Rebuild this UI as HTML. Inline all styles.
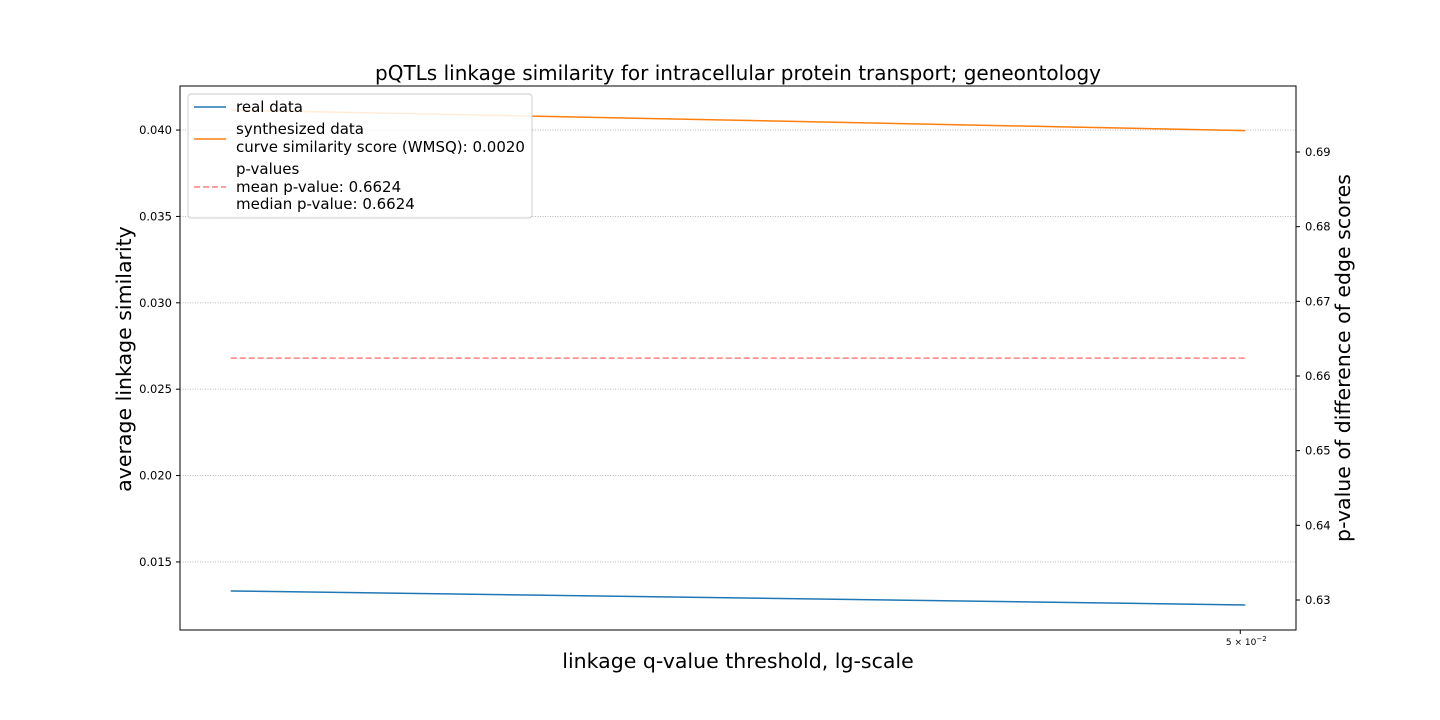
<!DOCTYPE html>
<html><head><meta charset="utf-8"><style>
body{margin:0;background:#fff;}
svg{display:block;font-family:"DejaVu Sans","Liberation Sans",sans-serif;}
</style></head><body>
<svg id="chart" width="1440" height="720"></svg>
<script>
const thresholds = [0.0223, 0.0502];
const realData = [0.01332, 0.01251];
const synthData = [0.04116, 0.03997];
const pValues = [0.6624, 0.6624];
const leftTicks = [0.015, 0.020, 0.025, 0.030, 0.035, 0.040];
const leftTickLabels = ["0.015","0.020","0.025","0.030","0.035","0.040"];
const rightTicks = [0.63, 0.64, 0.65, 0.66, 0.67, 0.68, 0.69];
const rightTickLabels = ["0.63","0.64","0.65","0.66","0.67","0.68","0.69"];

const L=180,R=1296,T=86,B=630;
const ns="http://www.w3.org/2000/svg";
const svg=document.getElementById('chart');
function el(tag,attrs,parent){const e=document.createElementNS(ns,tag);for(const k in attrs)e.setAttribute(k,attrs[k]);(parent||svg).appendChild(e);return e;}
const lx0=Math.log(thresholds[0]),lx1=Math.log(thresholds[thresholds.length-1]);
const pad=(lx1-lx0)*0.05;
const xs=v=>L+(Math.log(v)-(lx0-pad))/((lx1+pad)-(lx0-pad))*(R-L);
const yl=v=>B-(v-0.01106)/(0.04255-0.01106)*(B-T);
const yr=v=>B-(v-0.62598)/(0.69884-0.62598)*(B-T);

leftTicks.forEach((t,i)=>{
  const y=yl(t);
  const g=el('line',{x1:L,x2:R,y1:y,y2:y,stroke:'#b0b0b0','stroke-width':0.8,'stroke-dasharray':'1,1.5'});
  
  
  el('line',{x1:L-4,x2:L,y1:y,y2:y,stroke:'#000'});
  const tx=el('text',{x:L-8,y:y+4,'text-anchor':'end','font-size':11.5});
  tx.textContent=leftTickLabels[i];
  
  
});
rightTicks.forEach((t,i)=>{
  const y=yr(t);
  el('line',{x1:R,x2:R+4,y1:y,y2:y,stroke:'#000'});
  const tx=el('text',{x:R+9,y:y+4,'font-size':11.5});
  tx.textContent=rightTickLabels[i];
  
  
});
{const x=xs(0.05);el('line',{x1:x,x2:x,y1:B,y2:B+4,stroke:'#000'});
const t=el('text',{x:x+6,y:B+15,'text-anchor':'middle','font-size':9});
t.innerHTML='5 × 10<tspan dy="-4" font-size="7">−2</tspan>';

}

function line(data,sc,color,name,dash){
  const pts=data.map((v,i)=>xs(thresholds[i])+','+sc(v)).join(' ');
  const p=el('polyline',{points:pts,fill:'none',stroke:color,'stroke-width':1.5});
  if(dash)p.setAttribute('stroke-dasharray',dash);
  
  
}
line(realData,yl,'#1f77b4','real-data-line');
line(synthData,yl,'#ff7f0e','synthesized-data-line');
line(pValues,yr,'#ff7f7f','p-value-line','6,3');

const frame=el('rect',{x:L,y:T,width:R-L,height:B-T,fill:'none',stroke:'#000','stroke-width':1});


</script>
<svg width="1440" height="720" style="position:absolute;left:0;top:0;font-family:'DejaVu Sans','Liberation Sans',sans-serif;">
<text x="738" y="80" text-anchor="middle" font-size="20">pQTLs linkage similarity for intracellular protein transport; geneontology</text>
<text x="738" y="668" text-anchor="middle" font-size="20.5">linkage q-value threshold, lg-scale</text>
<text transform="translate(131,359) rotate(-90)" text-anchor="middle" font-size="20.5">average linkage similarity</text>
<text transform="translate(1350,358) rotate(-90)" text-anchor="middle" font-size="20.5">p-value of difference of edge scores</text>
<g font-size="15">
<rect x="188" y="94" width="344" height="124" rx="3" fill="#fff" fill-opacity="0.85" stroke="#ccc"/>
<line x1="194" x2="226" y1="107" y2="107" stroke="#1f77b4" stroke-width="1.5"/>
<text x="236" y="112">real data</text>
<line x1="194" x2="226" y1="139" y2="139" stroke="#ff7f0e" stroke-width="1.5"/>
<text x="236" y="134">synthesized data</text>
<text x="236" y="152">curve similarity score (WMSQ): 0.0020</text>
<line x1="194" x2="226" y1="187" y2="187" stroke="#ff7f7f" stroke-width="1.5" stroke-dasharray="6,3"/>
<text x="236" y="174">p-values</text>
<text x="236" y="192">mean p-value: 0.6624</text>
<text x="236" y="209">median p-value: 0.6624</text>
</g>
</svg>
</body></html>
